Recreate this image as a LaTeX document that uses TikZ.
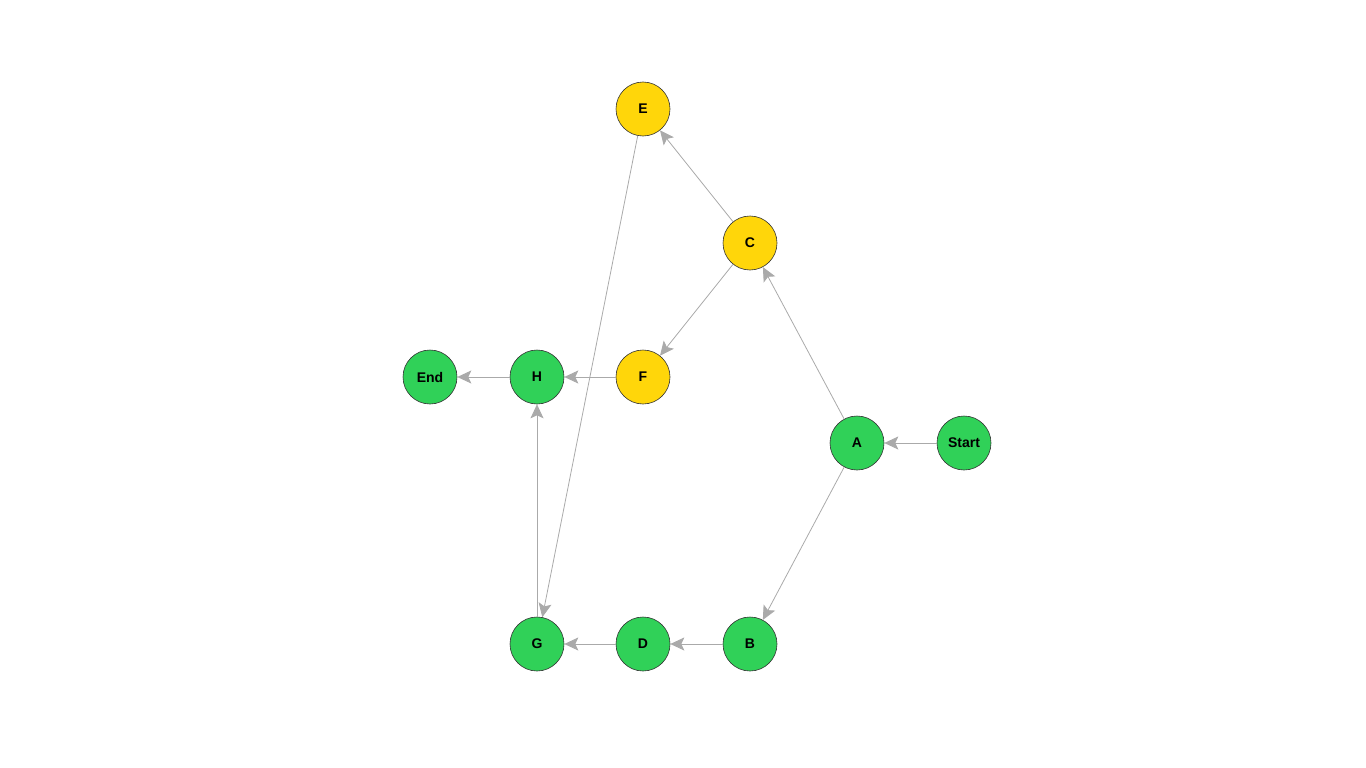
\documentclass[tikz,border=0pt]{standalone}
\usepackage{fontspec}
\setmainfont{Liberation Sans}
\usetikzlibrary{arrows.meta}
\definecolor{ngreen}{RGB}{48,209,88}
\definecolor{nyellow}{RGB}{255,214,10}
\definecolor{egray}{RGB}{170,170,170}
\begin{document}
\begin{tikzpicture}[x=1pt,y=-1pt,
  vtx/.style={circle,draw=black!80,line width=0.6pt,minimum size=54pt,inner sep=0pt,font=\fontsize{14}{16}\selectfont\bfseries},
  gv/.style={vtx,fill=ngreen},
  yv/.style={vtx,fill=nyellow},
  edge/.style={draw=egray,line width=0.8pt,-{Stealth[length=14pt,width=13pt,inset=3pt]}}]
\useasboundingbox (0,0) rectangle (1366,768);
\node[yv] (E) at (643,109) {E};
\node[yv] (C) at (750,243) {C};
\node[yv] (F) at (643,377) {F};
\node[gv] (H) at (537,377) {H};
\node[gv] (End) at (430,377) {End};
\node[gv] (A) at (857,443) {A};
\node[gv] (Start) at (964,443) {Start};
\node[gv] (G) at (537,644) {G};
\node[gv] (D) at (643,644) {D};
\node[gv] (B) at (750,644) {B};
\draw[edge] (Start) -- (A);
\draw[edge] (A) -- (C);
\draw[edge] (A) -- (B);
\draw[edge] (C) -- (E);
\draw[edge] (C) -- (F);
\draw[edge] (E) -- (G);
\draw[edge] (F) -- (H);
\draw[edge] (B) -- (D);
\draw[edge] (D) -- (G);
\draw[edge] (G) -- (H);
\draw[edge] (H) -- (End);
\end{tikzpicture}
\end{document}
